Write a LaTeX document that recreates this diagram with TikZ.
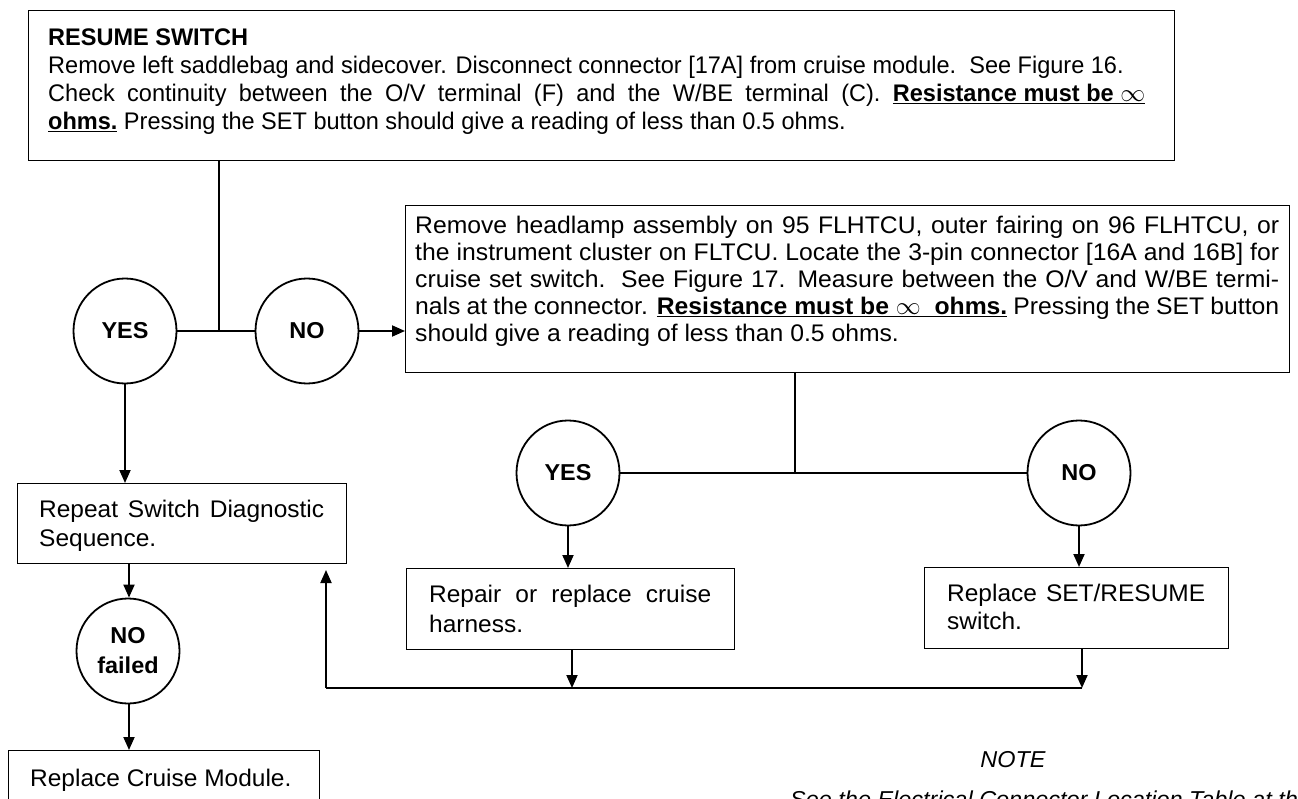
\documentclass[tikz,border=0pt]{standalone}
\usepackage{fontspec}
\setmainfont{Liberation Sans}[FakeStretch=1.02]
\newfontfamily\topfont{Liberation Sans}[FakeStretch=0.98]
\newfontfamily\midfont{Liberation Sans}[FakeStretch=1.03]
\usetikzlibrary{arrows.meta,shapes.geometric}

% one justified line of a box text
\newcommand{\jline}[1]{\hbox to\hsize{#1}}
% one ragged (last) line of a box text
\newcommand{\rline}[1]{\hbox to\hsize{#1\hfil}}
% bold underlined warning
\newcommand{\warn}[1]{\underline{#1}}

\begin{document}
\begin{tikzpicture}[x=1pt,y=-1pt,
  font=\fontsize{24}{26}\selectfont,
  box/.style={draw,line width=1.2pt,rectangle,anchor=north west,inner sep=0pt},
  txt/.style={anchor=base west,inner sep=0pt},
  dec/.style={draw,ellipse,line width=1.8pt,minimum width=103pt,minimum height=105pt,inner sep=0pt,font=\fontsize{23}{30}\selectfont\bfseries,align=center},
  wire/.style={line width=1.9pt},
  arr/.style={wire,-{Triangle[length=13pt,width=11pt]}},
  ]
\useasboundingbox (0,0) rectangle (1298,799);

% ---- boxes ----
\node[box,minimum width=1146pt,minimum height=150pt] (top) at (28,10) {};
\node[txt] (toptext) at (48,46)
  {\parbox[t]{1097pt}{\topfont\baselineskip=28pt
   \rline{\bfseries RESUME SWITCH}
   \rline{Remove left saddlebag and sidecover. Disconnect connector [17A] from cruise module.\ \ See Figure 16.}
   \jline{Check continuity between the O/V terminal (F) and the W/BE terminal (C). \warn{\textbf{Resistance must be} $\infty$}}
   \rline{\warn{\textbf{ohms.}} Pressing the SET button should give a reading of less than 0.5 ohms.}}};

\node[box,minimum width=884pt,minimum height=167pt] (mid) at (405,205) {};
\node[txt] (midtext) at (415,234)
  {\parbox[t]{864pt}{\midfont\baselineskip=27pt
   \jline{Remove headlamp assembly on 95 FLHTCU, outer fairing on 96 FLHTCU, or}
   \jline{the instrument cluster on FLTCU. Locate the 3-pin connector [16A and 16B] for}
   \jline{cruise set switch.\ \ See Figure 17. Measure between the O/V and W/BE termi-}
   \jline{nals at the connector. \warn{\textbf{Resistance must be} $\infty$\ \ \textbf{ohms.}} Pressing the SET button}
   \rline{should give a reading of less than 0.5 ohms.}}};

\node[box,minimum width=329pt,minimum height=80pt] (rep) at (17,483) {};
\node[txt] (reptext) at (39,517)
  {\parbox[t]{285pt}{\baselineskip=29pt
   \jline{Repeat Switch Diagnostic}
   \rline{Sequence.}}};

\node[box,minimum width=328pt,minimum height=81pt] (harn) at (406,568) {};
\node[txt] (harntext) at (429,602)
  {\parbox[t]{282pt}{\baselineskip=30pt
   \jline{Repair or replace cruise}
   \rline{harness.}}};

\node[box,minimum width=304pt,minimum height=81pt] (sw) at (924,567) {};
\node[txt] (swtext) at (947,601)
  {\parbox[t]{258pt}{\baselineskip=28pt
   \jline{Replace SET/RESUME}
   \rline{switch.}}};

\node[box,minimum width=311pt,minimum height=80pt] (mod) at (8,750) {};
\node[txt] (modtext) at (30,786) {Replace Cruise Module.};

% ---- decisions ----
\node[dec] (yes1) at (125,331) {YES};
\node[dec] (no1)  at (307,331) {NO};
\node[dec] (yes2) at (568,473) {YES};
\node[dec] (no2)  at (1079,473) {NO};
\node[dec] (nof)  at (128,651) {NO\\failed};

% ---- junctions and free ends ----
\coordinate (j1) at (219,331);
\coordinate (j2) at (795,473);
\coordinate (ret) at (326,688);
\coordinate (rettip) at (326,570);
\coordinate (h1) at (572,688);
\coordinate (h2) at (1082,688);
\coordinate (d1) at (129,0);

% ---- connectors ----
\draw[wire] (j1 |- top.south) -- (j1);
\draw[wire] (yes1.east) -- (no1.west);
\draw[arr] (no1.east) -- (mid.west |- no1);
\draw[arr] (yes1.south) -- (yes1 |- rep.north);
\draw[arr] (d1 |- rep.south) -- (d1 |- nof.north);
\draw[arr] (d1 |- nof.south) -- (d1 |- mod.north);

\draw[wire] (j2 |- mid.south) -- (j2);
\draw[wire] (yes2.east) -- (no2.west);
\draw[arr] (yes2.south) -- (yes2 |- harn.north);
\draw[arr] (no2.south) -- (no2 |- sw.north);
\draw[arr] (h1 |- harn.south) -- (h1);
\draw[arr] (h2 |- sw.south) -- (h2);
\draw[wire] (h2) -- (ret);
\draw[arr] (ret) -- (rettip);

% ---- note ----
\node[font=\fontsize{23}{26}\selectfont\itshape] (note) at (1013,760) {NOTE};
\begin{scope}
\clip (0,0) rectangle (1298,799);
\node[txt,font=\fontsize{23}{26}\selectfont\itshape] (see) at (790,807)
  {See the Electrical Connector Location Table at the};
\end{scope}
\end{tikzpicture}
\end{document}
